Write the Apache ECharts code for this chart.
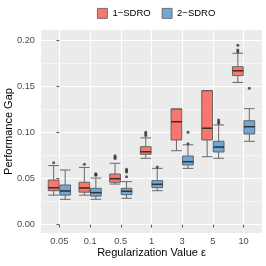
<!DOCTYPE html>
<html>
<head>
<meta charset="utf-8">
<script src="https://cdn.jsdelivr.net/npm/echarts@6/dist/echarts.min.js"></script>
<style>html,body{margin:0;padding:0;background:#fff;}#c{width:266px;height:266px;}</style>
</head>
<body>
<div id="c"></div>
<script>
// ---- data ----
var categories = ['0.05', '0.1', '0.5', '1', '3', '5', '10'];
var seriesNames = ['1\u2212SDRO', '2\u2212SDRO'];
// [min, Q1, median, Q3, max]
var sdro1Boxes = [
  [0.0320, 0.0368, 0.0400, 0.0484, 0.0640],
  [0.0320, 0.0352, 0.0398, 0.0459, 0.0620],
  [0.0440, 0.0459, 0.0498, 0.0549, 0.0665],
  [0.0719, 0.0762, 0.0790, 0.0845, 0.0940],
  [0.0801, 0.0917, 0.1115, 0.1253, 0.1253],
  [0.0736, 0.0917, 0.1044, 0.1451, 0.1451],
  [0.1540, 0.1614, 0.1667, 0.1711, 0.1856]
];
var sdro1Outliers = [
  [0.0671],
  [0.0654],
  [0.0747, 0.0730, 0.0718],
  [0.1000, 0.0982, 0.0965],
  [],
  [],
  [0.1943, 0.1892, 0.1872]
];
var sdro2Boxes = [
  [0.0275, 0.0320, 0.0365, 0.0430, 0.0592],
  [0.0275, 0.0309, 0.0347, 0.0394, 0.0505],
  [0.0286, 0.0325, 0.0362, 0.0394, 0.0466],
  [0.0368, 0.0401, 0.0437, 0.0477, 0.0610],
  [0.0610, 0.0646, 0.0682, 0.0744, 0.0865],
  [0.0719, 0.0787, 0.0841, 0.0903, 0.1080],
  [0.0903, 0.0982, 0.1061, 0.1126, 0.1256]
];
var sdro2Outliers = [
  [],
  [0.0552, 0.0544, 0.0535],
  [0.0600, 0.0585, 0.0570, 0.0520],
  [0.0625],
  [0.1000, 0.0877],
  [0.1134, 0.1115, 0.1098],
  [0.1477]
];
var yTicks = [0, 0.05, 0.10, 0.15, 0.20];
var xTicks = [0, 1, 2, 3, 4, 5, 6];

// ---- layout constants ----
var gridLeft = 41, gridRight = 4, gridTop = 30, gridBottom = 33;
var xMin = -0.6, xMax = 6.6;
var dodge = 0.1875;
var unitPx = (266 - gridLeft - gridRight) / (xMax - xMin);
var boxW = unitPx * 0.35;

function boxData(boxes, off) {
  return boxes.map(function (b, i) { return [i + off].concat(b); });
}
function outlierData(outs, off) {
  var res = [];
  outs.forEach(function (arr, i) { arr.forEach(function (v) { res.push([i + off, v]); }); });
  return res;
}
function medianData(boxes, off) {
  return boxes.map(function (b, i) { return [i + off, b[2]]; });
}

var colors = ['#F8766D', '#6FA8D8'];
var boxBorder = '#5a5a5a';

var chart = echarts.init(document.getElementById('c'), null, { renderer: 'canvas' });
var xAxisBase = {
  type: 'value', min: xMin, max: xMax, gridIndex: 0
};
chart.setOption({
  animation: false,
  textStyle: { fontFamily: 'Liberation Sans, Arial, sans-serif' },
  legend: {
    data: seriesNames.map(function (n, i) {
      return { name: n, itemStyle: { color: colors[i], borderColor: boxBorder, borderWidth: 0.8 } };
    }),
    left: 92, top: 3,
    itemWidth: 10, itemHeight: 10, itemGap: 11,
    icon: 'rect',
    textStyle: { fontSize: 9.5, color: '#000' },
    selectedMode: false
  },
  grid: {
    left: gridLeft, right: gridRight, top: gridTop, bottom: gridBottom,
    show: true, backgroundColor: '#EBEBEB', borderWidth: 0,
    containLabel: false, outerBoundsMode: 'none'
  },
  xAxis: [
    Object.assign({}, xAxisBase, {
      name: 'Regularization Value \u03b5',
      nameLocation: 'middle', nameGap: 14, nameMoveOverlap: false,
      nameTextStyle: { fontSize: 11, color: '#000' },
      axisLine: { show: false },
      axisTick: { show: true, length: 3, lineStyle: { color: '#333', width: 0.8 }, customValues: xTicks },
      axisLabel: {
        customValues: xTicks, margin: 4, fontSize: 9.3, color: '#4D4D4D',
        formatter: function (v) { return categories[Math.round(v)]; }
      },
      splitLine: { show: true, lineStyle: { color: '#fff', width: 1.1 } }
    }),
    Object.assign({}, xAxisBase, { show: false, splitLine: { show: false } })
  ],
  yAxis: {
    type: 'value', min: -0.009, max: 0.2108,
    name: 'Performance Gap', nameLocation: 'middle', nameGap: 27, nameMoveOverlap: false,
    nameTextStyle: { fontSize: 11, color: '#000' },
    axisLine: { show: false },
    axisTick: { show: true, length: 3, lineStyle: { color: '#333', width: 0.8 }, customValues: yTicks },
    axisLabel: {
      customValues: yTicks, margin: 6, fontSize: 9.3, color: '#4D4D4D',
      formatter: function (v) { return v.toFixed(2); }
    },
    splitLine: { show: true, lineStyle: { color: '#fff', width: 1.1 } },
    minorTick: { show: false, splitNumber: 2 },
    minorSplitLine: { show: true, lineStyle: { color: '#fff', width: 0.5 } }
  },
  series: [
    {
      name: seriesNames[0], type: 'boxplot', xAxisIndex: 0,
      data: boxData(sdro1Boxes, -dodge),
      boxWidth: [boxW, boxW],
      itemStyle: { color: colors[0], borderColor: boxBorder, borderWidth: 0.9 },
      emphasis: { disabled: true }, silent: true
    },
    {
      name: seriesNames[1], type: 'boxplot', xAxisIndex: 1,
      data: boxData(sdro2Boxes, dodge),
      boxWidth: [boxW, boxW],
      itemStyle: { color: colors[1], borderColor: boxBorder, borderWidth: 0.9 },
      emphasis: { disabled: true }, silent: true
    },
    {
      name: 'med1', type: 'scatter', xAxisIndex: 0, z: 4,
      data: medianData(sdro1Boxes, -dodge),
      symbol: 'rect', symbolSize: [boxW, 1.5],
      itemStyle: { color: '#262626' }, silent: true
    },
    {
      name: 'med2', type: 'scatter', xAxisIndex: 0, z: 4,
      data: medianData(sdro2Boxes, dodge),
      symbol: 'rect', symbolSize: [boxW, 1.5],
      itemStyle: { color: '#262626' }, silent: true
    },
    {
      name: 'out1', type: 'scatter', xAxisIndex: 0, z: 4,
      data: outlierData(sdro1Outliers, -dodge),
      symbol: 'circle', symbolSize: 3,
      itemStyle: { color: '#333' }, silent: true
    },
    {
      name: 'out2', type: 'scatter', xAxisIndex: 0, z: 4,
      data: outlierData(sdro2Outliers, dodge),
      symbol: 'circle', symbolSize: 3,
      itemStyle: { color: '#333' }, silent: true
    }
  ]
});
</script>
</body>
</html>
